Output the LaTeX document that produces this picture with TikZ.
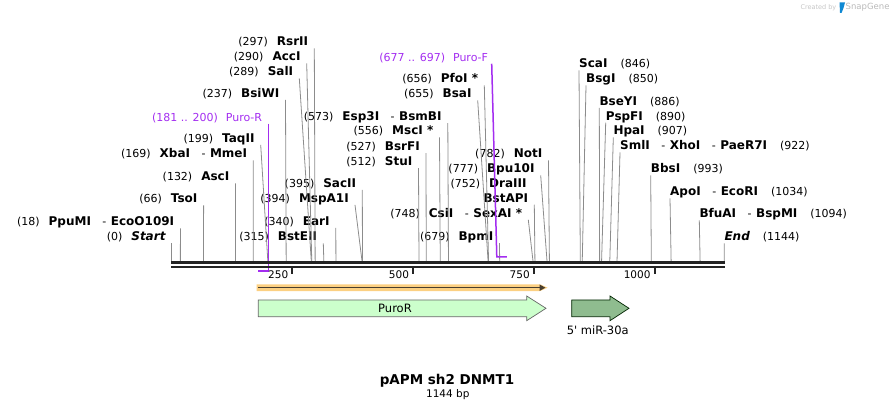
\documentclass[tikz,border=0pt]{standalone}
\usepackage{fontspec}
\setmainfont{DejaVu Sans}[Ligatures=TeXOff]
\usetikzlibrary{arrows.meta}
\definecolor{purp}{RGB}{163,45,240}
\definecolor{cutgray}{RGB}{140,140,140}
\definecolor{bbcol}{RGB}{35,35,35}
\definecolor{orfband}{RGB}{252,208,130}
\definecolor{orfline}{RGB}{72,62,48}
\definecolor{purofill}{RGB}{204,255,204}
\definecolor{mirfill}{RGB}{143,188,143}
\newcommand{\nm}[1]{{\fontsize{12}{13}\selectfont\bfseries #1}}
\newcommand{\sepa}{\hspace{11.5pt}-\hspace{4.5pt}}

\begin{document}
\begin{tikzpicture}[x=1pt, y=-1pt,
	lft/.style={anchor=east, inner xsep=6pt, inner ysep=0.75pt, text height=9.5pt, text depth=1.5pt, font=\fontsize{11}{13}\selectfont},
	rgt/.style={lft, anchor=west, inner xsep=0pt},
	cut/.style={draw=cutgray, line width=0.8pt},
	primer/.style={draw=purp, line width=1.5pt},
	tickmark/.style={draw=bbcol, line width=2pt}]
				\useasboundingbox (0,0) rectangle (896,411);
				
				\foreach \p in {0,18,66,132,169,199,237,289,290,297,315,340,394,395,512,527,556,573,655,656,679,748,752,777,782,846,850,886,890,907,922,993,1034,1094,1144}
					\coordinate (c\p) at ({171.7+0.483*\p},261);
				
				\node[lft] (startlab) at (171.7,237){(0)\hspace{9pt}\nm{\itshape Start}};
				\node[lft] (ppumi) at (180.4,222){(18)\hspace{9pt}\nm{PpuMI}\sepa\nm{EcoO109I}};
				\node[lft] (tsoi) at (203.6,199){(66)\hspace{9pt}\nm{TsoI}};
				\node[lft] (asci) at (235.5,177){(132)\hspace{9pt}\nm{AscI}};
				\node[lft] (xbai) at (253.3,154){(169)\hspace{9pt}\nm{XbaI}\sepa\nm{MmeI}};
				\node[lft] (taqii) at (260.7,138.5){(199)\hspace{9pt}\nm{TaqII}};
				\node[lft, text=purp] (puroR) at (268.3,117.3){(181 .. 200)\hspace{8pt}Puro-R};
				\node[lft] (bsiwi) at (285.5,93.5){(237)\hspace{9pt}\nm{BsiWI}};
				\node[lft] (sali) at (299.3,72){(289)\hspace{9pt}\nm{SalI}};
				\node[lft] (acci) at (306.7,57){(290)\hspace{9pt}\nm{AccI}};
				\node[lft] (rsrii) at (314.3,42){(297)\hspace{9pt}\nm{RsrII}};
				
				\node[lft] (bsteii) at (323.3,237){(315)\hspace{9pt}\nm{BstEII}};
				\node[lft] (eari) at (335.8,221.5){(340)\hspace{9pt}\nm{EarI}};
				\node[lft] (mspa1i) at (355,198.5){(394)\hspace{9pt}\nm{MspA1I}};
				\node[lft] (sacii) at (362.3,183.5){(395)\hspace{9pt}\nm{SacII}};
				\node[lft] (stui) at (418.5,161.7){(512)\hspace{9pt}\nm{StuI}};
				\node[lft] (bsrfi) at (426,146.7){(527)\hspace{9pt}\nm{BsrFI}};
				\node[lft] (msci) at (439.5,131){(556)\hspace{9pt}\nm{MscI *}};
				\node[lft] (esp3i) at (447.8,116.7){(573)\hspace{9pt}\nm{Esp3I}\sepa\nm{BsmBI}};
				\node[lft] (bsai) at (477.7,94){(655)\hspace{9pt}\nm{BsaI}};
				\node[lft] (pfoi) at (484.3,79){(656)\hspace{9pt}\nm{PfoI *}};
				\node[lft, text=purp, inner xsep=3.5pt] (puroF) at (491.7,57.3){(677 .. 697)\hspace{8pt}Puro-F};
				\node[lft] (noti) at (548.5,154){(782)\hspace{9pt}\nm{NotI}};
				\node[lft] (bpu10i) at (540.7,169){(777)\hspace{9pt}\nm{Bpu10I}};
				\node[lft] (draiii) at (532.7,183.3){(752)\hspace{9pt}\nm{DraIII}};
				\node[lft] (bstapi) at (534.3,198.3){\nm{BstAPI}};
				\node[lft] (csii) at (528.3,213.3){(748)\hspace{9pt}\nm{CsiI}\sepa\nm{SexAI *}};
				\node[lft] (bpmi) at (499.5,236.7){(679)\hspace{9pt}\nm{BpmI}};
				
				\node[rgt] (scai) at (579,64){\nm{ScaI}\hspace{13pt}(846)};
				\node[rgt] (bsgi) at (586,79){\nm{BsgI}\hspace{13pt}(850)};
				\node[rgt] (bseyi) at (599.3,101.5){\nm{BseYI}\hspace{13pt}(886)};
				\node[rgt] (pspfi) at (605.7,116.3){\nm{PspFI}\hspace{13pt}(890)};
				\node[rgt] (hpai) at (613.3,131){\nm{HpaI}\hspace{13pt}(907)};
				\node[rgt] (smli) at (620,146){\nm{SmlI}\sepa\nm{XhoI}\sepa\nm{PaeR7I}\hspace{13pt}(922)};
				\node[rgt] (bbsi) at (650.7,169){\nm{BbsI}\hspace{13pt}(993)};
				\node[rgt] (apoi) at (670,192){\nm{ApoI}\sepa\nm{EcoRI}\hspace{13pt}(1034)};
				\node[rgt] (bfuai) at (699.3,214){\nm{BfuAI}\sepa\nm{BspMI}\hspace{13pt}(1094)};
				\node[rgt] (endlab) at (724.3,237){\nm{\itshape End}\hspace{13pt}(1144)};
				
				\path[cut] (startlab.south east) edge (c0) (ppumi.south east) edge (c18) (tsoi.south east) edge (c66)
					(asci.south east) edge (c132) (xbai.south east) edge (c169) (taqii.south east) edge (c199)
					(bsiwi.south east) edge (c237) (sali.south east) edge (c289) (acci.south east) edge (c290)
					(rsrii.south east) edge (c297) (bsteii.south east) edge (c315) (eari.south east) edge (c340)
					(mspa1i.south east) edge (c394) (sacii.south east) edge (c395) (stui.south east) edge (c512)
					(bsrfi.south east) edge (c527) (msci.south east) edge (c556) (esp3i.south east) edge (c573)
					(bsai.south east) edge (c655) (pfoi.south east) edge (c656) (noti.south east) edge (c782)
					(bpu10i.south east) edge (c777) (bstapi.south east) edge (c752) (csii.south east) edge (c748)
					(bpmi.south east) edge (c679);
				\path[cut] (scai.south west) edge (c846) (bsgi.south west) edge (c850) (bseyi.south west) edge (c886)
					(pspfi.south west) edge (c890) (hpai.south west) edge (c907) (smli.south west) edge (c922)
					(bbsi.south west) edge (c993) (apoi.south west) edge (c1034) (bfuai.south west) edge (c1094)
					(endlab.south west) edge (c1144);
				
				\coordinate (prB) at (268.3,271);
				\coordinate (prE) at (258.3,271);
				\coordinate (pfB) at (496.8,257);
				\coordinate (pfE) at (506.8,257);
				\draw[primer] (puroR.south east) -- (prB) -- (prE);
				\draw[primer] (puroF.south east) -- (pfB) -- (pfE);
				
				\coordinate (bbs) at (171.2,262.5);
				\coordinate (bbe) at (724.8,262.5);
				\draw[bbcol, line width=3pt] (bbs) -- (bbe);
				\draw[bbcol, line width=2.5pt] ([yshift=-4.3pt]bbs) -- ([yshift=-4.3pt]bbe);
				\foreach \t in {250,500,750,1000} {
					\draw[tickmark] ({171.7+0.483*\t},267.5) -- ({171.7+0.483*\t},274.3);
					\node[anchor=east, inner sep=0pt, font=\fontsize{10.5}{12}\selectfont] (t\t) at ({167.7+0.483*\t},274.5){\t};
				}
				
				\fill[orfband] (256.7,284.3) -- (540,284.3) -- (547.5,287.7) -- (540,291.1) -- (256.7,291.1) -- cycle;
				\draw[orfline, line width=1.5pt, -{Triangle[length=6pt,width=6pt]}] (258.3,287.7) -- (545.5,287.7);
				
				\draw[draw=gray!80!black, fill=purofill, line width=0.7pt] (258.3,300) -- (526.7,300) -- (526.7,296) -- (546,308.3) -- (526.7,320.7) -- (526.7,316.7) -- (258.3,316.7) -- cycle;
				\node[inner sep=0pt, font=\fontsize{11.5}{13}\selectfont] (puro) at (395,308.3){PuroR};
				\draw[draw=black!65!green!40!black, fill=mirfill, line width=0.7pt] (571.7,300) -- (610,300) -- (610,296) -- (629,308.3) -- (610,320.7) -- (610,316.7) -- (571.7,316.7) -- cycle;
				\node[inner sep=0pt, font=\fontsize{11.5}{13}\selectfont] (mir) at (597.7,330){5' miR-30a};
				
				\node[inner sep=0pt, font=\fontsize{13.5}{15}\selectfont\bfseries] (title) at (447,380.5){pAPM sh2 DNMT1};
				\node[inner sep=0pt, font=\fontsize{10.5}{12}\selectfont] (len) at (447.8,394.5){1144 bp};
				
				\node[anchor=east, inner sep=0pt, text=gray!45, font=\fontsize{6.5}{8}\selectfont] (made) at (836.5,7.5){Created by};
				\fill[cyan!70!blue] (839.5,2.5) -- (845,2.5) -- (843.5,8) -- (841.5,13) -- (840,13) -- cycle;
				\node[anchor=west, inner sep=0pt, text=gray!55, font=\fontsize{8.5}{10}\selectfont] (sg) at (845.5,7.5){SnapGene};
				\end{tikzpicture}
\end{document}
